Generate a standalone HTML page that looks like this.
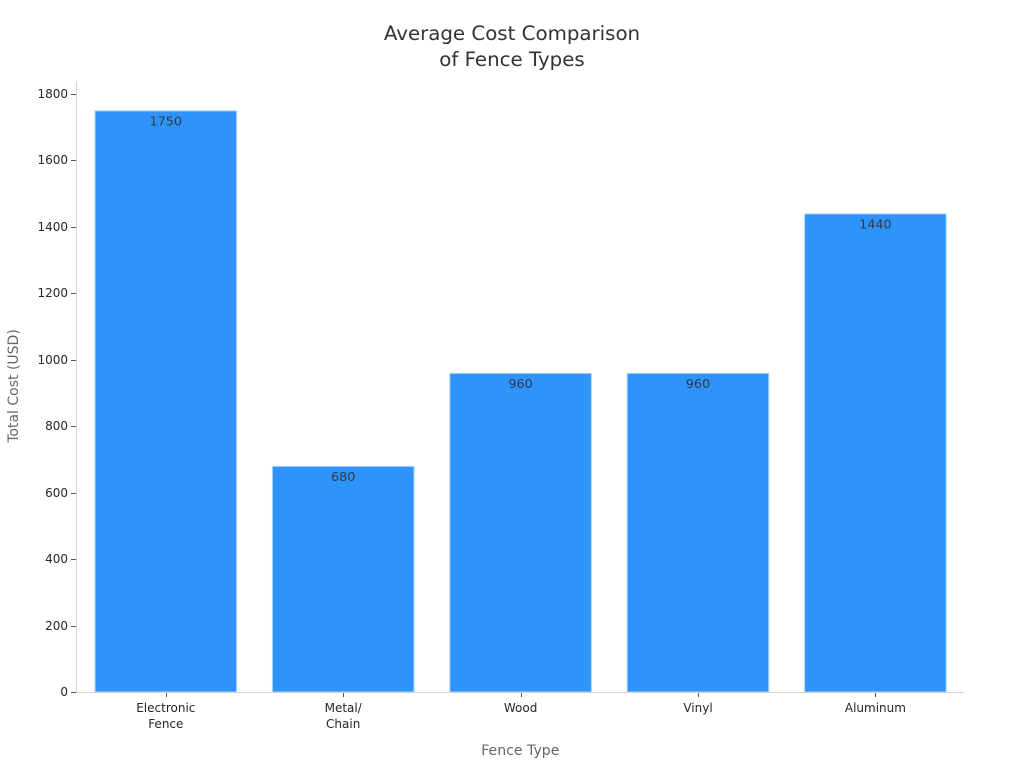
<!DOCTYPE html>
<html>
<head>
<meta charset="utf-8">
<title>Average Cost Comparison of Fence Types</title>
<style>
html,body{margin:0;padding:0;background:#fff;width:1024px;height:768px;overflow:hidden}
svg{display:block;font-family:"DejaVu Sans","Liberation Sans",sans-serif}
</style>
</head>
<body>
<svg id="chart" width="1024" height="768" viewBox="0 0 1024 768" xmlns="http://www.w3.org/2000/svg">
<rect width="1024" height="768" fill="#ffffff"/>
<text x="512" y="40" font-size="19.8" fill="#333333" text-anchor="middle">Average Cost Comparison</text>
<text x="512" y="66" font-size="19.8" fill="#333333" text-anchor="middle">of Fence Types</text>
<text transform="translate(18,386) rotate(-90)" font-size="14" fill="#666666" text-anchor="middle">Total Cost (USD)</text>
<text x="520.3" y="755" font-size="14.1" fill="#666666" text-anchor="middle">Fence Type</text>
<g id="bars"></g>
<g id="axes"></g>
<g id="labels"></g>
</svg>
<script>
const categories = [["Electronic","Fence"],["Metal/","Chain"],["Wood"],["Vinyl"],["Aluminum"]];
const categoryKeys = ["electronic-fence","metal-chain","wood","vinyl","aluminum"];
const costs = [1750,680,960,960,1440];
const yTicks = [0,200,400,600,800,1000,1200,1400,1600,1800];

const NS = "http://www.w3.org/2000/svg";
const baseY = 692, topY = 94, yMaxTick = 1800;
function yScale(v){ return baseY - v * (baseY - topY) / yMaxTick; }
function xScale(i){ return 165.8 + i * 177.4; }
const barW = 141.5;
function make(parent, tag, attrs){
  const el = document.createElementNS(NS, tag);
  for (const k in attrs) el.setAttribute(k, attrs[k]);
  parent.appendChild(el);
  return el;
}
const bars = document.getElementById("bars");
const axes = document.getElementById("axes");
const labels = document.getElementById("labels");

costs.forEach(function(v, i){
  const bar = make(bars, "rect", {x: xScale(i) - barW/2, y: yScale(v) + 0.3, width: barW, height: baseY - yScale(v) - 0.3, fill: "#2e93fa", stroke: "#a6d4fd", "stroke-width": 1});
  
  
  const t = make(labels, "text", {x: xScale(i), y: yScale(v) + 15, "font-size": 12.8, fill: "#333a45", "text-anchor": "middle"});
  t.textContent = v;
  
  
});

const ySpine = make(axes, "line", {x1: 76.5, x2: 76.5, y1: 81, y2: 692.5, stroke: "#d3d3d3", "stroke-width": 1});


const xSpine = make(axes, "line", {x1: 76, x2: 964, y1: 692.5, y2: 692.5, stroke: "#d3d3d3", "stroke-width": 1});



yTicks.forEach(function(v){
  const y = Math.round(yScale(v)) + 0.5;
  const tick = make(axes, "line", {x1: 71, x2: 76, y1: y, y2: y, stroke: "#555555", "stroke-width": 1});
  
  
  const t = make(axes, "text", {x: 68, y: y + 3.5, "font-size": 12, fill: "#262626", "text-anchor": "end"});
  t.textContent = v;
  
  
});

categories.forEach(function(lines, i){
  const x = Math.round(xScale(i)) + 0.5;
  const tick = make(axes, "line", {x1: x, x2: x, y1: 693, y2: 697, stroke: "#555555", "stroke-width": 1});
  
  
  lines.forEach(function(line, j){
    const t = make(axes, "text", {x: xScale(i), y: 712 + j * 16, "font-size": 12, fill: "#262626", "text-anchor": "middle"});
    t.textContent = line;
    
    
  });
});
</script>
</body>
</html>
